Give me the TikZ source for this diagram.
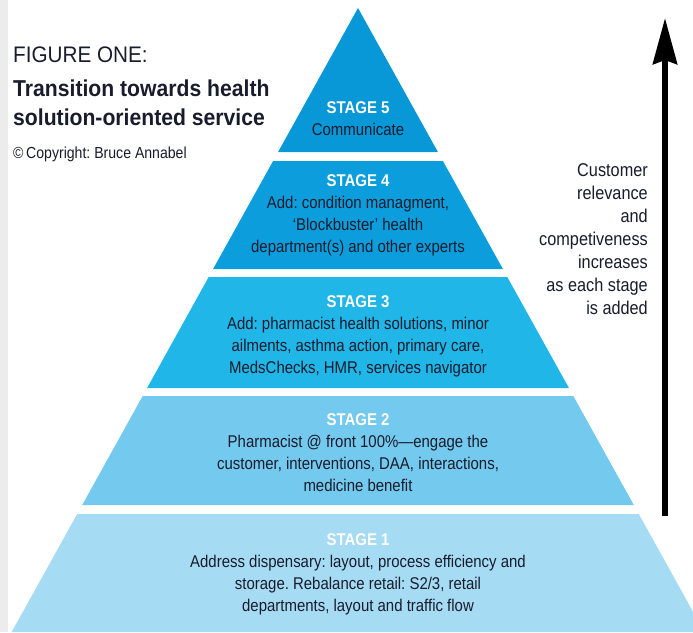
\documentclass[tikz,border=0pt]{standalone}
\usepackage{fontspec}
\setmainfont{Liberation Sans}[FakeStretch=0.88]
\newfontfamily\titlefont{Liberation Sans}[FakeStretch=0.92]
\usetikzlibrary{arrows.meta}
\definecolor{sfive}{RGB}{8,152,216}
\definecolor{sfour}{RGB}{12,158,220}
\definecolor{sthree}{RGB}{32,182,232}
\definecolor{stwo}{RGB}{116,201,238}
\definecolor{sone}{RGB}{166,219,244}
\definecolor{ink}{RGB}{24,28,44}
\definecolor{strip}{RGB}{236,236,236}
\tikzset{
  body/.style={font=\frenchspacing\fontsize{17}{22}\selectfont, text=ink, align=center, inner sep=0pt},
  sidetext/.style={font=\frenchspacing\fontsize{18.5}{23}\selectfont, text=ink, align=right, inner sep=0pt},
  titletext/.style={inner sep=0pt, anchor=base west, text=ink},
}
\newcommand{\stagehead}[1]{{\bfseries\color{white}#1}}
\begin{document}
\begin{tikzpicture}[x=1pt,y=-1pt]
\useasboundingbox (0,0) rectangle (693,632);
\clip (0,0) rectangle (693,632);
\fill[white] (0,0) rectangle (693,632);
\fill[strip] (0,0) rectangle (8,632);
% pyramid layers
\fill[sfive]  (358,8) -- (437.9,152) -- (278.1,152) -- cycle;
\fill[sfour]  (273.1,161) -- (442.9,161) -- (502.9,269) -- (213.1,269) -- cycle;
\fill[sthree] (208.7,277) -- (507.3,277) -- (568.9,388) -- (147.1,388) -- cycle;
\fill[stwo]   (142.7,396) -- (573.3,396) -- (633.8,505) -- (82.2,505) -- cycle;
\fill[sone]   (77.2,514) -- (638.8,514) -- (704.3,632) -- (11.7,632) -- cycle;
% stage texts
\node[body] (s5) at (358,119) {\stagehead{STAGE 5}\\Communicate};
\node[body] (s4) at (358,215) {\stagehead{STAGE 4}\\Add: condition managment,\\`Blockbuster' health\\department(s) and other experts};
\node[body] (s3) at (358,336) {\stagehead{STAGE 3}\\Add: pharmacist health solutions, minor\\ailments, asthma action, primary care,\\MedsChecks, HMR, services navigator};
\node[body] (s2) at (358,453) {\stagehead{STAGE 2}\\Pharmacist @ front 100\%---engage the\\customer, interventions, DAA, interactions,\\medicine benefit};
\node[body] (s1) at (358,574) {\stagehead{STAGE 1}\\Address dispensary: layout, process efficiency and\\storage. Rebalance retail: S2/3, retail\\departments, layout and traffic flow};
% title block
\node[titletext, font=\titlefont\fontsize{22.5}{26}\selectfont] (fig) at (13,62) {FIGURE ONE:};
\node[titletext, font=\titlefont\fontsize{23}{26}\selectfont\bfseries] (t1) at (13,96) {Transition towards health};
\node[titletext, font=\titlefont\fontsize{23}{26}\selectfont\bfseries] (t2) at (13,125) {solution-oriented service};
\node[titletext, font=\frenchspacing\fontsize{16}{18}\selectfont] (copy) at (13,158) {\textcopyright\,Copyright: Bruce Annabel};
% right side
\node[sidetext, anchor=east] (rel) at (648,239) {Customer\\relevance\\and\\competiveness\\increases\\as each stage\\is added};
\coordinate (abot) at (665,516);
\coordinate (atop) at (665,18);
\draw[line width=6pt, -{Stealth[length=46pt,width=24pt,inset=4pt]}] (abot) -- (atop);
\end{tikzpicture}
\end{document}
